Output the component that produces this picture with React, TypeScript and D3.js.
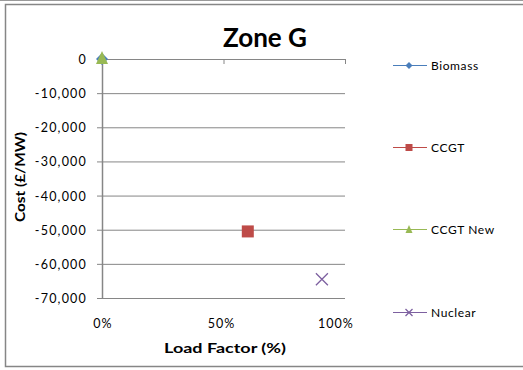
import React from "react";
import * as d3 from "d3";

const seriesNames = ["Biomass", "CCGT", "CCGT New", "Nuclear"];
const loadFactor = [0, 0.6, 0, 0.905];
const cost = [0, -50500, 300, -64500];
const colors = ["#4A7EBB", "#BE4B48", "#98B954", "#7D60A0"];
const markers = ["diamond", "square", "triangle", "x"];
const yTicks = [0, -10000, -20000, -30000, -40000, -50000, -60000, -70000];
const xTicks = [0, 0.5, 1];

const FONT = "Lato, 'Open Sans', sans-serif";

function Marker({ kind, x, y, size, color }: { kind: string; x: number; y: number; size: number; color: string }) {
  const h = size / 2;
  if (kind === "square") return <rect x={x - h} y={y - h} width={size} height={size} fill={color} />;
  if (kind === "diamond")
    return <path d={`M${x},${y - h}L${x + h},${y}L${x},${y + h}L${x - h},${y}Z`} fill={color} />;
  if (kind === "triangle")
    return <path d={`M${x},${y - h - 1}L${x + h},${y + h}L${x - h},${y + h}Z`} fill={color} />;
  return (
    <path d={`M${x - h},${y - h}L${x + h},${y + h}M${x + h},${y - h}L${x - h},${y + h}`} stroke={color} strokeWidth={1.3} fill="none" />
  );
}

export default function App() {
  const W = 523, H = 370;
  const x = d3.scaleLinear().domain([0, 1]).range([102, 345]);
  const y = d3.scaleLinear().domain([0, -70000]).range([59, 298]);
  const fmt = (v: number) => d3.format(",")(v).replace("\u2212", "-");
  const legendY = [65, 147, 229, 312];
  const xLabelShift = [0, -3, -10];
  return (
    <svg width={W} height={H} style={{ position: "absolute", left: 0, top: 0 }}>
      <rect x={0} y={0} width={W} height={H} fill="white" />
      <line x1={0} x2={W} y1={0.5} y2={0.5} stroke="#9a9a9a" />
      <rect x={5.5} y={4.5} width={520} height={362} fill="white" stroke="#868686" strokeWidth={1.5} />
      <text x={265} y={47} textAnchor="middle" fontFamily={FONT} fontWeight="bold" fontSize={27} textLength={84} lengthAdjust="spacingAndGlyphs" fill="#000">Zone G</text>
      {yTicks.map((t) => (
        <g key={t}>
          <line x1={x(0)} x2={x(1)} y1={y(t) + 0.5} y2={y(t) + 0.5} stroke="#868686" strokeWidth={1} />
          <line x1={x(0) - 5} x2={x(0)} y1={y(t) + 0.5} y2={y(t) + 0.5} stroke="#868686" />
          <text x={87} y={y(t) + 5} textAnchor="end" fontFamily={FONT} fontSize={12.5} letterSpacing={1.2} fill="#000">{fmt(t)}</text>
        </g>
      ))}
      <line x1={x(0) + 0.5} x2={x(0) + 0.5} y1={y(0)} y2={y(-70000) + 1} stroke="#868686" strokeWidth={1.5} />
      {xTicks.map((t, i) => (
        <g key={t}>
          <line x1={x(t) + 0.5} x2={x(t) + 0.5} y1={y(0)} y2={y(0) + 5} stroke="#868686" />
          <text x={x(t) + 1 + xLabelShift[i]} y={328} textAnchor="middle" fontFamily={FONT} fontSize={12.5} letterSpacing={1} fill="#000">{d3.format(".0%")(t)}</text>
        </g>
      ))}
      <text x={225} y={353} textAnchor="middle" fontFamily={FONT} fontWeight="bold" fontSize={13} textLength={122} lengthAdjust="spacingAndGlyphs" fill="#000">Load Factor (%)</text>
      <text transform={`translate(25,177) rotate(-90)`} textAnchor="middle" fontFamily={FONT} fontWeight="bold" fontSize={13} textLength={90} lengthAdjust="spacingAndGlyphs" fill="#000">Cost (£/MW)</text>
      {seriesNames.map((s, i) => (
        <Marker key={s} kind={markers[i]} x={x(loadFactor[i])} y={y(cost[i])} size={12} color={colors[i]} />
      ))}
      {seriesNames.map((s, i) => (
        <g key={"l" + s}>
          <line x1={393} x2={427} y1={legendY[i] + 0.5} y2={legendY[i] + 0.5} stroke={colors[i]} strokeWidth={1.2} />
          <Marker kind={markers[i]} x={409} y={legendY[i] + 0.5} size={7} color={colors[i]} />
          <text x={431} y={legendY[i] + 4.5} fontFamily={FONT} fontSize={12} letterSpacing={0.6} fill="#000">{s}</text>
        </g>
      ))}
    </svg>
  );
}
